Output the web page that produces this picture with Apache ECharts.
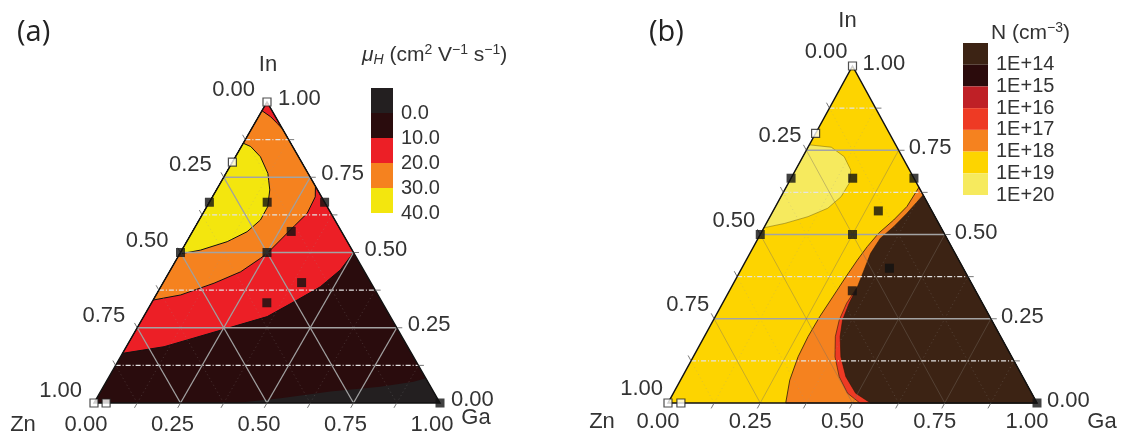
<!DOCTYPE html>
<html><head><meta charset="utf-8">
<script src="https://cdn.jsdelivr.net/npm/echarts@6/dist/echarts.min.js"></script>
<style>html,body{margin:0;padding:0;background:#fff}#c{width:1125px;height:437px}</style>
</head><body><div id="c"></div>
<script>
// ---------- data (ternary compositions are [Ga, In]; Zn = 1 - Ga - In) ----------
const tickValues = [0, 0.25, 0.5, 0.75, 1];
const tickLabels = ['0.00', '0.25', '0.50', '0.75', '1.00'];
const majorGrid = [0.25, 0.5, 0.75];
const minorGrid = [0.125, 0.375, 0.625, 0.875];
const tickMarks = [0.125, 0.25, 0.375, 0.5, 0.625, 0.75, 0.875];
const componentNames = ['Zn', 'Ga', 'In'];

const samplesFilled = [[0, 0.667], [0.167, 0.667], [0.333, 0.667], [0, 0.5], [0.25, 0.5], [0.285, 0.57], [0.4, 0.4], [0.333, 0.333], [1, 0]];
const samplesOpen = [[0, 1], [0, 0.8], [0, 0], [0.035, 0]];

// (a) Hall mobility
const mobilityLevels = ['0.0', '10.0', '20.0', '30.0', '40.0'];
const mobilityColors = ['#231f20', '#2a0c0d', '#ec1f26', '#f5821f', '#f3e60e'];
const mobility0 = [[0.41, 0], [0.531, 0.016], [0.664, 0.038], [0.8, 0.054], [0.888, 0.071], [0.918, 0.082]];
const mobility10 = [[0, 0.165], [0.109, 0.187], [0.253, 0.245], [0.357, 0.287], [0.416, 0.342], [0.461, 0.386], [0.491, 0.442], [0.5, 0.5]];
const mobility20 = [[0, 0.342], [0.071, 0.359], [0.148, 0.398], [0.206, 0.436], [0.241, 0.481], [0.253, 0.5], [0.28, 0.575], [0.301, 0.63], [0.297, 0.685], [0.28, 0.72]];
const mobility20Apex = [[0.09, 0.91], [0.065, 0.929], [0.035, 0.951], [0, 0.971]];
const mobility30 = [[0, 0.863], [0.027, 0.852], [0.072, 0.818], [0.121, 0.763], [0.154, 0.708], [0.176, 0.652], [0.177, 0.608], [0.158, 0.569], [0.117, 0.536], [0.054, 0.508], [0, 0.495]];

// (b) carrier concentration
const carrierLevels = ['1E+14', '1E+15', '1E+16', '1E+17', '1E+18', '1E+19', '1E+20'];
const carrierColors = ['#3c2314', '#2b0b0c', '#bf2026', '#ee3a24', '#f5821f', '#fdd400', '#f6ea5e'];
const carrier14 = [[0.383, 0.617], [0.366, 0.563], [0.35, 0.523], [0.331, 0.489], [0.327, 0.444], [0.334, 0.395], [0.341, 0.345], [0.343, 0.296], [0.35, 0.246], [0.368, 0.197], [0.4, 0.137], [0.443, 0.078], [0.494, 0.029], [0.549, 0]];
const carrier17 = [[0.341, 0.345], [0.336, 0.296], [0.341, 0.246], [0.355, 0.197], [0.384, 0.137], [0.425, 0.078], [0.472, 0.029], [0.52, 0]];
const carrier18 = [[0.36, 0.64], [0.356, 0.583], [0.34, 0.543], [0.319, 0.504], [0.308, 0.464], [0.301, 0.424], [0.295, 0.375], [0.289, 0.315], [0.283, 0.256], [0.281, 0.197], [0.284, 0.137], [0.296, 0.068], [0.319, 0]];
const carrier20 = [[0, 0.766], [0.063, 0.759], [0.112, 0.731], [0.15, 0.691], [0.165, 0.652], [0.163, 0.612], [0.144, 0.578], [0.103, 0.553], [0.05, 0.533], [0, 0.52]];

// ---------- helpers ----------
const FONT = 'Liberation Sans';
const TXT = '#333';
const CZN = [0, 0], CGA = [1, 0], CIN = [0, 1];
const TRI = [CZN, CGA, CIN];
const tern = p => [p[0] + p[1] / 2, p[1]];

const plots = [
  {
    grid: { left: 94, top: 102, width: 346, height: 301 },
    znOff: [-12, -12], inOff: [11, -3], gaOff: [-8, 22],
    nameIn: [1, -37], nameZn: [-71, 22], nameGa: [36, 15],
    diag: { color: '#a0a0a0', width: 1.3 },
    regions: [
      { pts: TRI, fill: mobilityColors[1] },
      { pts: mobility10.concat([CIN]), fill: mobilityColors[2], stroke: '#111', lw: 1 },
      { pts: mobility20.concat(mobility20Apex), fill: mobilityColors[3], stroke: '#111', lw: 1 },
      { pts: mobility30, fill: mobilityColors[4], stroke: '#111', lw: 1 },
      { pts: mobility0.concat([CGA]), fill: mobilityColors[0] }
    ]
  },
  {
    grid: { left: 668, top: 66, width: 369, height: 337 },
    znOff: [-5, -14], inOff: [10, -2], gaOff: [-10, 19],
    nameIn: [-5, -45], nameZn: [-66, 19], nameGa: [65, 19],
    diag: { color: 'rgba(120,110,100,0.45)', width: 0.9 },
    regions: [
      { pts: TRI, fill: carrierColors[5] },
      { pts: carrier20, fill: carrierColors[6], stroke: 'rgba(90,70,0,0.6)', lw: 0.7 },
      { pts: carrier18.concat([CGA]), fill: carrierColors[4], stroke: '#2a1a08', lw: 0.8 },
      { pts: carrier17.concat([CGA]), fill: carrierColors[3], stroke: '#2a1a08', lw: 0.6 },
      { pts: carrier14.concat([CGA]), fill: carrierColors[0], stroke: '#2a1a08', lw: 0.6 }
    ]
  }
];

const grids = [], xAxes = [], yAxes = [], series = [];
plots.forEach((pl, g) => {
  grids.push(pl.grid);
  xAxes.push({ type: 'value', gridIndex: g, min: 0, max: 1, show: false });
  yAxes.push({ type: 'value', gridIndex: g, min: 0, max: 1, show: false });

  // contour regions
  series.push({
    type: 'custom', xAxisIndex: g, yAxisIndex: g, z: 1, silent: true, clip: false,
    data: pl.regions.map(() => [0.5, 0.5]),
    renderItem: (params, api) => {
      const r = pl.regions[params.dataIndex];
      return {
        type: 'polygon', z2: params.dataIndex,
        shape: { points: r.pts.map(p => api.coord(tern(p))) },
        style: { fill: r.fill, stroke: r.stroke || null, lineWidth: r.lw || 0 }
      };
    }
  });

  // grid lines
  series.push({
    type: 'custom', xAxisIndex: g, yAxisIndex: g, z: 2, silent: true, clip: false,
    data: [[0.5, 0.5]],
    renderItem: (params, api) => {
      const P = (ga, inn) => api.coord([ga + inn / 2, inn]);
      const ch = [];
      const line = (a, b, st) => ch.push({ type: 'line', shape: { x1: a[0], y1: a[1], x2: b[0], y2: b[1] }, style: st });
      minorGrid.forEach(v => {
        const st = { stroke: 'rgba(150,150,150,0.35)', lineWidth: 0.8, lineDash: [1, 3] };
        line(P(v, 0), P(v, 1 - v), st);
        line(P(1 - v, 0), P(0, 1 - v), st);
      });
      minorGrid.forEach(v => {
        line(P(0, v), P(1 - v, v), { stroke: '#e4e4e4', lineWidth: 1.3, lineDash: [5, 2, 1, 2] });
      });
      majorGrid.forEach(v => {
        line(P(0, v), P(1 - v, v), { stroke: '#a3a3a3', lineWidth: 1.3 });
        line(P(v, 0), P(v, 1 - v), { stroke: pl.diag.color, lineWidth: pl.diag.width });
        line(P(1 - v, 0), P(0, 1 - v), { stroke: pl.diag.color, lineWidth: pl.diag.width });
      });
      return { type: 'group', children: ch };
    }
  });

  // outline, ticks, labels
  series.push({
    type: 'custom', xAxisIndex: g, yAxisIndex: g, z: 3, silent: true, clip: false,
    data: [[0.5, 0.5]],
    renderItem: (params, api) => {
      const P = (ga, inn) => api.coord([ga + inn / 2, inn]);
      const ch = [];
      ch.push({ type: 'polygon', shape: { points: TRI.map(p => api.coord(tern(p))) }, style: { fill: null, stroke: '#111', lineWidth: 1.5 } });
      const d = 0.016;
      const tk = (a, b) => ch.push({ type: 'line', shape: { x1: a[0], y1: a[1], x2: b[0], y2: b[1] }, style: { stroke: '#555', lineWidth: 0.8 } });
      tickMarks.forEach(v => {
        tk(P(v, 0), P(v, -d));
        tk(P(0, 1 - v), P(-d, 1 - v + d));
        tk(P(1 - v, v), P(1 - v + d, v));
      });
      const txt = (s, p, off, align) => ch.push({
        type: 'text',
        style: { text: s, x: p[0] + off[0], y: p[1] + off[1], fill: TXT, fontSize: 22, fontFamily: FONT, align: align, verticalAlign: 'middle' }
      });
      tickValues.forEach((v, i) => {
        txt(tickLabels[i], P(0, 1 - v), pl.znOff, 'right');
        txt(tickLabels[i], P(1 - v, v), pl.inOff, 'left');
        txt(tickLabels[i], P(v, 0), pl.gaOff, 'center');
      });
      txt(componentNames[2], P(0, 1), pl.nameIn, 'center');
      txt(componentNames[0], P(0, 0), pl.nameZn, 'center');
      txt(componentNames[1], P(1, 0), pl.nameGa, 'center');
      return { type: 'group', children: ch };
    }
  });

  // sample markers
  series.push({
    type: 'scatter', xAxisIndex: g, yAxisIndex: g, z: 5, clip: false, silent: true,
    symbol: 'rect', symbolSize: 9,
    itemStyle: { color: '#111' },
    data: samplesFilled.map(tern)
  });
  series.push({
    type: 'scatter', xAxisIndex: g, yAxisIndex: g, z: 5, clip: false, silent: true,
    symbol: 'rect', symbolSize: 8,
    itemStyle: { color: '#fff', borderColor: '#222', borderWidth: 1.2 },
    data: samplesOpen.map(tern)
  });
});

// colour bars
const bars = [
  { grid: { left: 371, top: 88, width: 22, height: 125 }, levels: mobilityLevels, colors: mobilityColors },
  { grid: { left: 963, top: 43, width: 25, height: 152 }, levels: carrierLevels, colors: carrierColors }
];
bars.forEach(b => {
  const g = grids.length;
  grids.push(b.grid);
  xAxes.push({ type: 'value', gridIndex: g, min: 0, max: 1, show: false });
  yAxes.push({
    type: 'value', gridIndex: g, min: 0, max: b.colors.length, interval: 1, inverse: true, position: 'right',
    axisLine: { show: false }, axisTick: { show: false }, splitLine: { show: false },
    axisLabel: {
      show: true, margin: 8, showMinLabel: false, showMaxLabel: true,
      color: TXT, fontSize: 20, fontFamily: FONT,
      formatter: v => (v >= 1 ? b.levels[Math.round(v) - 1] : '')
    }
  });
  series.push({
    type: 'custom', xAxisIndex: g, yAxisIndex: g, z: 2, silent: true, clip: false,
    data: b.colors.map((c, i) => [0.5, i + 0.5]),
    renderItem: (params, api) => {
      const i = params.dataIndex;
      const p0 = api.coord([0, i]), p1 = api.coord([1, i + 1]);
      return {
        type: 'rect',
        shape: { x: p0[0], y: Math.min(p0[1], p1[1]), width: p1[0] - p0[0], height: Math.abs(p1[1] - p0[1]) },
        style: { fill: b.colors[i] }
      };
    }
  });
});

const supStyle = { fontSize: 14, lineHeight: 12, verticalAlign: 'top', fontWeight: 'normal', fontFamily: FONT, color: TXT };
const nStyle = { fontSize: 21, lineHeight: 24, verticalAlign: 'middle', fontWeight: 'normal', fontFamily: FONT, color: TXT };

const option = {
  animation: false,
  backgroundColor: '#fff',
  grid: grids,
  xAxis: xAxes,
  yAxis: yAxes,
  title: [
    { text: '(a)', left: 17, top: 18, padding: 0, textStyle: { fontSize: 29, fontWeight: 'normal', fontFamily: 'Open Sans', color: '#222' } },
    { text: '(b)', left: 649, top: 18, padding: 0, textStyle: { fontSize: 29, fontWeight: 'normal', fontFamily: 'Open Sans', color: '#222' } },
    {
      text: '{mu|μ}{sub|H}{n| (cm}{sup|2}{n| V}{sup|−1}{n| s}{sup|−1}{n|)}', left: 362, top: 43, padding: 0,
      textStyle: {
        fontWeight: 'normal',
        rich: {
          mu: { fontSize: 21, lineHeight: 24, fontStyle: 'italic', fontWeight: 'normal', verticalAlign: 'middle', fontFamily: FONT, color: TXT },
          sub: { fontSize: 14, lineHeight: 12, fontStyle: 'italic', fontWeight: 'normal', verticalAlign: 'bottom', fontFamily: FONT, color: TXT },
          sup: supStyle, n: nStyle
        }
      }
    },
    {
      text: '{n|N (cm}{sup|−3}{n|)}', left: 991, top: 21, padding: 0,
      textStyle: { fontWeight: 'normal', rich: { sup: supStyle, n: nStyle } }
    }
  ],
  series: series
};
const chart = echarts.init(document.getElementById('c'));
chart.setOption(option);
</script>
</body></html>
